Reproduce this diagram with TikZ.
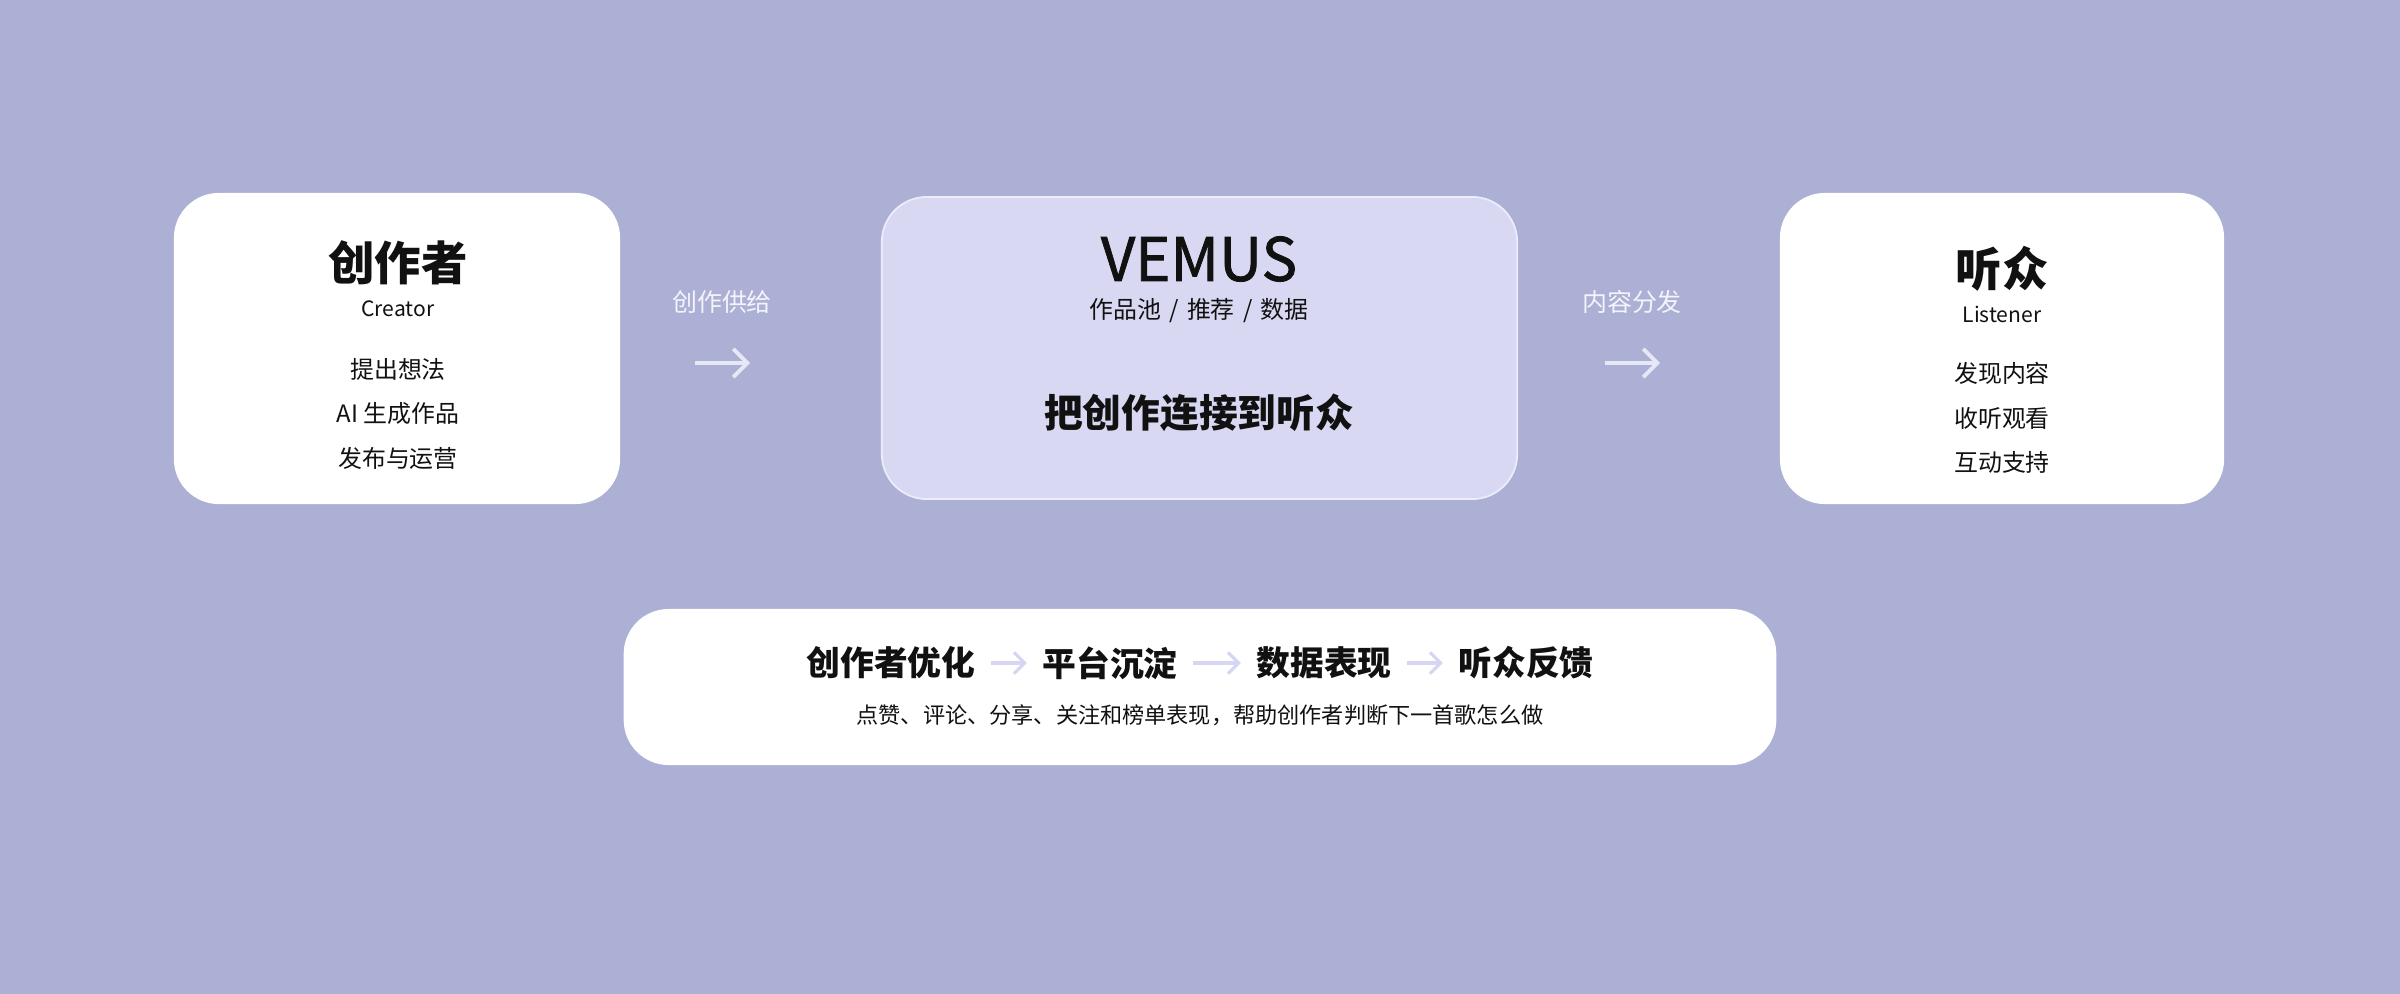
\documentclass[tikz,border=0pt]{standalone}
\usepackage{fontspec}
\setmainfont{Noto Sans CJK SC}
\newfontfamily\vemusfont{Noto Sans CJK SC}[FakeBold=1.3]
\usetikzlibrary{arrows.meta}
\definecolor{bg}{RGB}{171,176,212}
\definecolor{hubfill}{RGB}{216,216,242}
\definecolor{hubline}{RGB}{236,236,250}
\definecolor{flowtxt}{RGB}{244,244,252}
\definecolor{flowarr}{RGB}{230,232,246}
\definecolor{looparr}{RGB}{214,214,242}
\definecolor{ink}{RGB}{17,17,17}
\tikzset{
  card/.style={fill=white, draw=none, rounded corners=12.8pt, inner sep=0pt},
  hub/.style={fill=hubfill, draw=hubline, line width=0.5pt, rounded corners=12.8pt, inner sep=0pt},
  txt/.style={inner sep=0pt, text=ink, anchor=center},
  ttl/.style={txt, font=\fontsize{13.2pt}{13.2pt}\selectfont\bfseries},
  eng/.style={txt, font=\fontsize{6pt}{6pt}\selectfont},
  item/.style={txt, font=\fontsize{6.8pt}{6.8pt}\selectfont},
  flowlbl/.style={inner sep=0pt, text=flowtxt, font=\fontsize{7.1pt}{7.1pt}\selectfont},
  flowarrow/.style={draw=flowarr, line width=1.1pt, -{Straight Barb[length=4pt,width=8pt,line width=1.1pt]}},
  looptxt/.style={txt, font=\fontsize{9.6pt}{9.6pt}\selectfont\bfseries},
  looparrow/.style={draw=looparr, line width=0.9pt, shorten <=0.15cm, shorten >=0.15cm, -{Straight Barb[length=3pt,width=6pt,line width=0.9pt]}}
}
\begin{document}
\begin{tikzpicture}[x=0.01cm,y=-0.01cm]
\fill[bg] (0,0) rectangle (2400,994);
\useasboundingbox (0,0) rectangle (2400,994);

% cards
\node[card, minimum width=4.46cm, minimum height=3.11cm] (creator) at (397,348.5) {};
\node[hub, minimum width=6.35cm, minimum height=3.02cm] (platform) at (1199.5,348) {};
\node[card, minimum width=4.44cm, minimum height=3.11cm] (listener) at (2002,348.5) {};
\node[card, minimum width=11.52cm, minimum height=1.56cm] (loop) at (1200,687) {};

% creator
\node[ttl] (c1) at (398,263) {创作者};
\node[eng] (c2) at (398,309) {Creator};
\node[item] (c3) at (398,369) {提出想法};
\node[item] (c4) at (398,413) {AI 生成作品};
\node[item] (c5) at (398,458) {发布与运营};

% platform
\node[txt, font=\fontsize{17pt}{17pt}\vemusfont] (p1) at (1199,259) {VEMUS};
\node[item] (p2) at (1199,311) {作品池\hspace{0.35em}/\hspace{0.35em}推荐\hspace{0.35em}/\hspace{0.35em}数据};
\node[txt, font=\fontsize{11pt}{11pt}\selectfont\bfseries] (p3) at (1199,413) {把创作连接到听众};

% listener
\node[ttl] (l1) at (2002,269) {听众};
\node[eng] (l2) at (2002,314) {Listener};
\node[item] (l3) at (2002,373) {发现内容};
\node[item] (l4) at (2002,418) {收听观看};
\node[item] (l5) at (2002,462) {互动支持};

% flows
\node[flowlbl] (f1) at (722,302) {创作供给};
\coordinate (f1s) at (695,363);
\coordinate (f1e) at (750,363);
\draw[flowarrow] (f1s) -- (f1e);
\node[flowlbl] (f2) at (1632,302) {内容分发};
\coordinate (f2s) at (1605,363);
\coordinate (f2e) at (1660,363);
\draw[flowarrow] (f2s) -- (f2e);

% loop
\node[looptxt] (s1) at (891,663) {创作者优化};
\node[looptxt] (s2) at (1110,663) {平台沉淀};
\node[looptxt] (s3) at (1324,663) {数据表现};
\node[looptxt] (s4) at (1526,663) {听众反馈};
\draw[looparrow] (s1) -- (s2);
\draw[looparrow] (s2) -- (s3);
\draw[looparrow] (s3) -- (s4);
\node[txt, font=\fontsize{6.3pt}{6.3pt}\selectfont] (sub) at (1200,715) {点赞、评论、分享、关注和榜单表现，帮助创作者判断下一首歌怎么做};
\end{tikzpicture}
\end{document}
